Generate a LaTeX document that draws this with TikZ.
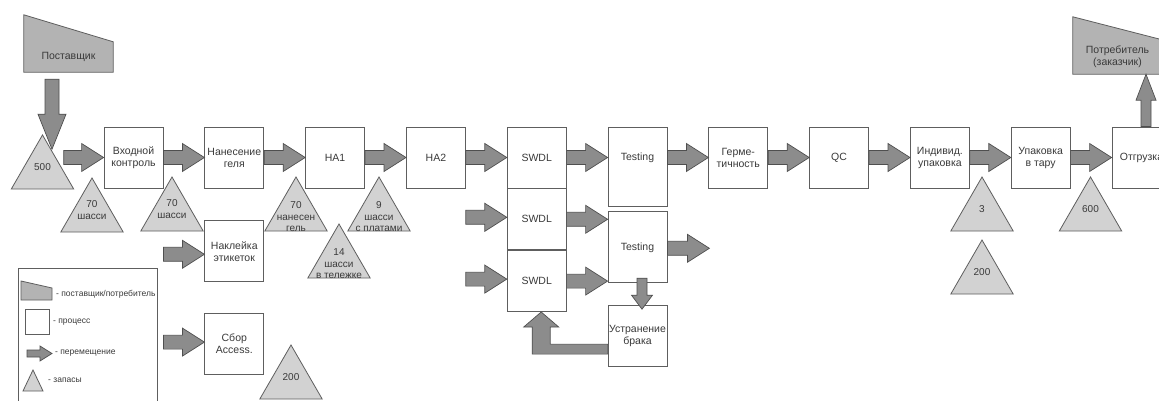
\documentclass[tikz,border=0pt]{standalone}
\usepackage{fontspec}
\setmainfont{Liberation Sans}
\usetikzlibrary{positioning,calc,shapes.geometric,backgrounds}
\definecolor{linec}{HTML}{5E5E5E}
\definecolor{arrc}{HTML}{8C8C8C}
\definecolor{arrline}{HTML}{4F4F4F}
\definecolor{stockc}{HTML}{D2D2D2}
\definecolor{partyc}{HTML}{B3B3B3}
\definecolor{textc}{HTML}{3A3A3A}
\tikzset{arshaft/.store in=\arshaft, arhead/.store in=\arhead, arlen/.store in=\arlen,
         arshaft=7pt, arhead=14pt, arlen=22pt}
\newcommand{\blockar}[3][]{%
  \begin{scope}[#1]
    \coordinate (hb) at ($(#3)!\arlen!(#2)$);
    \draw[blk] ($(#2)!\arshaft!90:(#3)$) -- ($(hb)!\arshaft!90:(#3)$)
      -- ($(hb)!\arhead!90:(#3)$) -- (#3) -- ($(hb)!\arhead!-90:(#3)$)
      -- ($(hb)!\arshaft!-90:(#3)$) -- ($(#2)!\arshaft!-90:(#3)$) -- cycle;
  \end{scope}}

\begin{document}
\begin{tikzpicture}[x=1pt,y=-1pt,
  font=\fontsize{10.5}{12}\selectfont, text=textc,
  box/.style={draw=linec,fill=white,line width=0.8pt,minimum width=59pt,
              minimum height=61pt,inner sep=1pt,align=center},
  stock/.style={regular polygon,regular polygon sides=3,minimum size=72pt,
                inner sep=0pt,draw=linec,fill=stockc,line width=0.8pt},
  stocktxt/.style={font=\fontsize{10}{11.5}\selectfont,align=center,
                   yshift=4pt,inner sep=1pt,text=textc},
  low/.style={yshift=-8pt},
  party/.style={minimum width=89pt,inner sep=1pt,align=center},
  partyfill/.style={draw=linec,fill=partyc,line width=0.8pt},
  blk/.style={draw=arrline,fill=arrc,line width=0.7pt},
  legtxt/.style={font=\fontsize{8.5}{10}\selectfont,anchor=west,inner sep=0pt},
]
\useasboundingbox (0,0) rectangle (1159,401);
\clip (0,0) rectangle (1159,401);

% supplier / customer
\node[party,minimum height=30pt] (sup) at (68.5,57) {Поставщик};
\node[party,minimum height=34pt] (cons) at (1117.5,57) {Потребитель\\(заказчик)};
\begin{scope}[on background layer]
  \fill[white] (0,0) rectangle (1159,401);
  \draw[partyfill] (sup.south west) -- ($(sup.north west)+(0,-27)$) -- (sup.north east)
    -- (sup.south east) -- cycle;
  \draw[partyfill] (cons.south west) -- ($(cons.north west)+(0,-23)$) -- (cons.north east)
    -- (cons.south east) -- cycle;
\end{scope}

% process boxes
\node[box] (vk) at (133.5,157.5) {Входной\\контроль};
\node[box,right=41pt of vk] (ng) {Нанесение\\геля};
\node[box,below=32pt of ng] (nk) {Наклейка\\этикеток};
\node[box,below=31pt of nk] (sb) {Сбор\\Access.};
\node[box,right=41pt of ng] (ha1) {HA1};
\node[box,right=41pt of ha1] (ha2) {HA2};
\node[box,right=41pt of ha2] (sw1) {SWDL};
\node[box,below=0pt of sw1] (sw2) {SWDL};
\node[box,below=0pt of sw2] (sw3) {SWDL};
\node[box,minimum height=79pt,right=41pt of sw1.north east,anchor=north west] (ts1) {};
\node (ts1t) at (ts1.north |- sw1.center) {Testing};
\node[box,minimum height=71pt,below=5pt of ts1] (ts2) {Testing};
\node[box,inner sep=0.5pt,below=22pt of ts2] (ub) {Устранение\\брака};
\node[box,right=41pt of ts1.north east,anchor=north west] (gm) {Герме-\\тичность};
\node[box,right=41pt of gm] (qc) {QC};
\node[box,right=41pt of qc] (iu) {Индивид.\\упаковка};
\node[box,right=41pt of iu] (ut) {Упаковка\\в тару};
\node[box,right=41pt of ut] (og) {Отгрузка};

% stocks
\node[stock,label={[stocktxt]center:500}] (st500) at (42.5,171) {};
\node[stock,label={[stocktxt]center:70\\шасси}] (stvk) at (92,214) {};
\node[stock,label={[stocktxt]center:70\\шасси}] (stng) at (172,213) {};
\node[stock,label={[stocktxt,low]center:70\\нанесен\\гель}] (stha) at (296,213) {};
\node[stock,label={[stocktxt,low]center:14\\шасси\\в тележке}] (sttl) at (339,260) {};
\node[stock,label={[stocktxt,low]center:9\\шасси\\с платами}] (stpl) at (379,213) {};
\node[stock,label={[stocktxt]center:200}] (stsb) at (291,381) {};
\node[stock,label={[stocktxt]center:3}] (stiu) at (982,213) {};
\node[stock,label={[stocktxt]center:200}] (stiu2) at (982,276) {};
\node[stock,label={[stocktxt]center:600}] (stut) at (1090.5,213) {};

% moves
\coordinate (supout) at ($(sup.south)+(-16.5,7)$);
\coordinate (stin) at ($(supout |- st500.corner 1)+(0,15)$);
\blockar[arlen=35pt]{supout}{stin}
\blockar{st500.east |- vk.west}{vk.west}
\blockar{vk.east}{ng.west}
\blockar{ng.east}{ha1.west}
\blockar{ha1.east}{ha2.west}
\blockar{ha2.east}{sw1.west}
\blockar{sw1.east}{ts1.west |- sw1.east}
\blockar{ts1.east |- gm.west}{gm.west}
\blockar{gm.east}{qc.west}
\blockar{qc.east}{iu.west}
\blockar{iu.east}{ut.west}
\blockar{ut.east}{og.west}
\coordinate (nkin) at ($(nk.west)+(-41,3)$);
\blockar{nkin}{nk.west |- nkin}
\coordinate (sbin) at ($(sb.west)+(-41,-2)$);
\blockar{sbin}{sb.west |- sbin}
\coordinate (sw2in) at ($(sw2.west)+(-41,-2)$);
\blockar{sw2in}{sw2.west |- sw2in}
\coordinate (sw3in) at ($(sw3.west)+(-41,-2)$);
\blockar{sw3in}{sw3.west |- sw3in}
\blockar{sw2.east}{ts2.west |- sw2.east}
\blockar{sw3.east}{ts2.west |- sw3.east}
\coordinate (ts2out) at ($(ts2.east)+(42,1)$);
\blockar{ts2.east |- ts2out}{ts2out}
\coordinate (ts2dn) at ($(ts2.south)+(4.5,-5)$);
\coordinate (ubin) at ($(ub.north)+(4.5,4)$);
\blockar[arshaft=5pt,arhead=10.5pt,arlen=14pt]{ts2dn}{ubin}
\coordinate (ogout) at ($(og.north)+(4.5,0)$);
\coordinate (consin) at (ogout |- cons.south);
\blockar[arshaft=5pt,arhead=10pt,arlen=26pt]{ogout}{consin}
\coordinate (rbtip) at ($(sw3.south)+(4.5,0)$);
\coordinate (rbout) at ($(ub.west)+(0,13)$);
\draw[blk] ($(rbout)+(0,-5)$) -- ($(rbtip |- rbout)+(9,-5)$) -- ($(rbtip)+(9,15)$)
  -- ($(rbtip)+(17.5,15)$) -- (rbtip) -- ($(rbtip)+(-17.5,15)$) -- ($(rbtip)+(-9,15)$)
  -- ($(rbtip |- rbout)+(-9,5)$) -- ($(rbout)+(0,5)$) -- cycle;

% legend
\draw[linec,line width=0.8pt] (18,268) rectangle (157,420);
\draw[partyfill] (21,300) -- (21,281) -- (52,288) -- (52,300) -- cycle;
\node[legtxt] (lgparty) at (56,294) {- поставщик/потребитель};
\draw[linec,fill=white,line width=0.8pt] (25,309) rectangle (49,334);
\node[legtxt] (lgbox) at (53,322) {- процесс};
\draw[blk] (27,350) -- (40,350) -- (40,346) -- (52,353.5) -- (40,361) -- (40,357)
  -- (27,357) -- cycle;
\node[legtxt] (lgmove) at (55,353) {- перемещение};
\draw[draw=linec,fill=stockc,line width=0.8pt] (23,391) -- (33,370) -- (43,391) -- cycle;
\node[legtxt] (lgstock) at (48,380) {- запасы};
\end{tikzpicture}
\end{document}
